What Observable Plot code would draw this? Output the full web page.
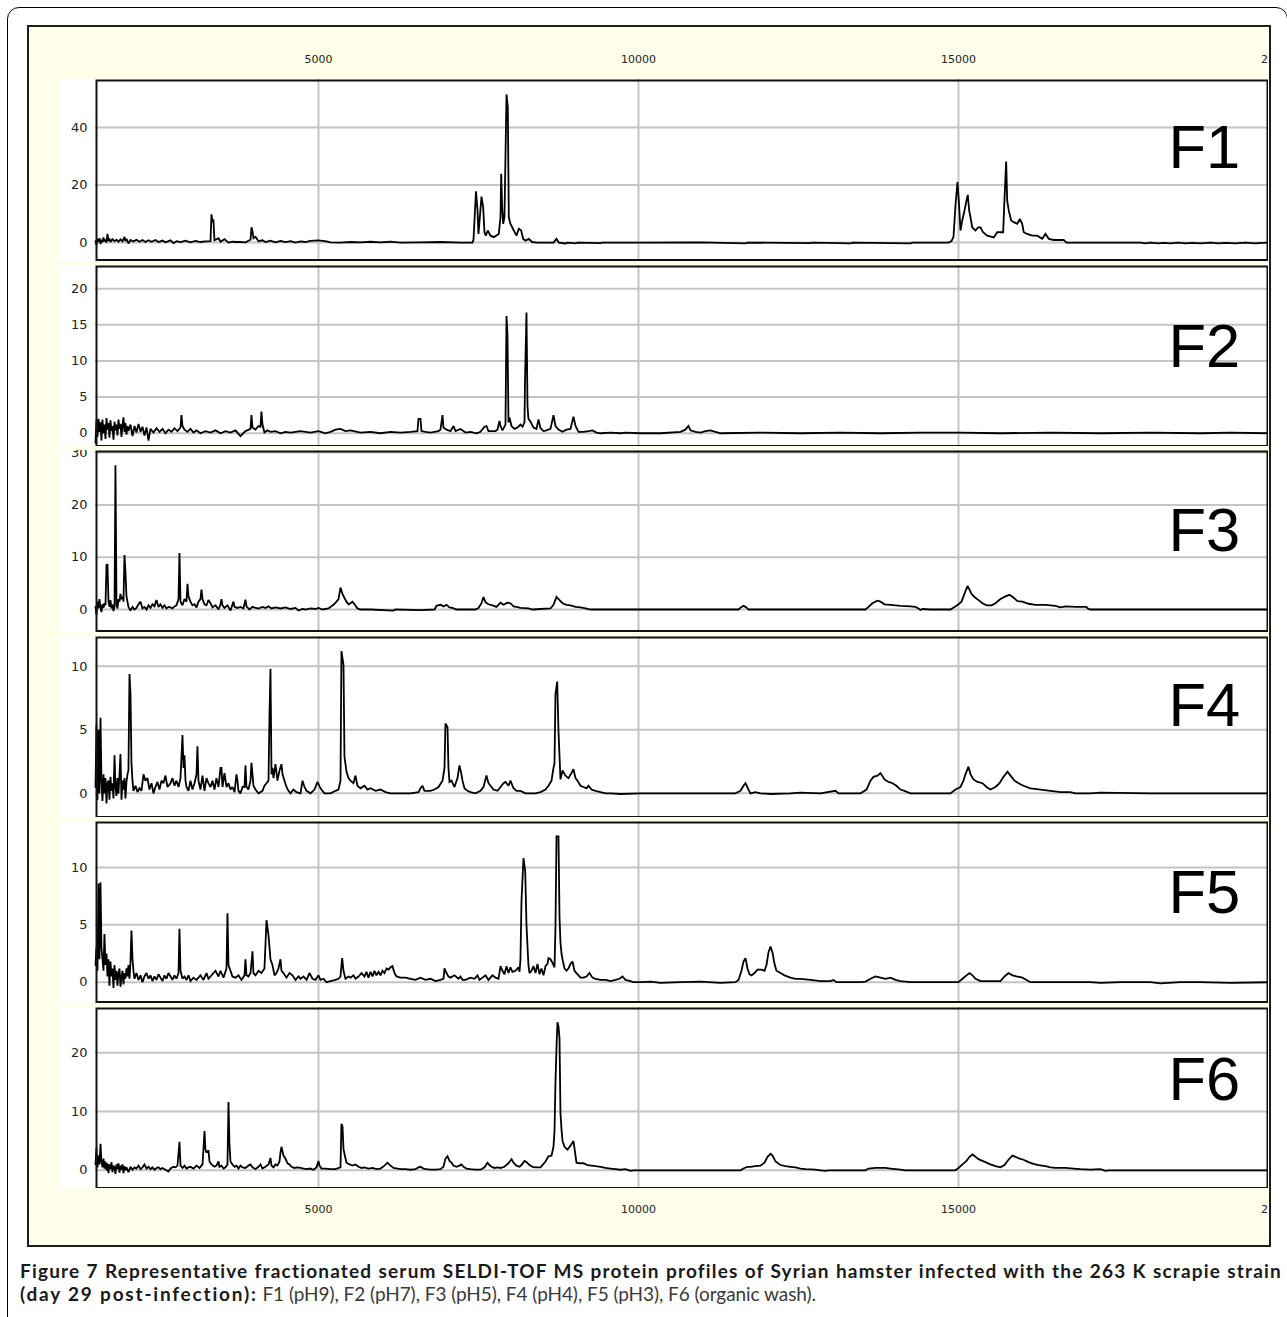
<!DOCTYPE html>
<html><head><meta charset="utf-8">
<script src="https://cdn.jsdelivr.net/npm/d3@7"></script>
<script src="https://cdn.jsdelivr.net/npm/@observablehq/plot@0.6"></script>
<style>
html,body{margin:0;padding:0;background:#fff;}
body{width:1287px;height:1317px;overflow:hidden;position:relative;font-family:"DejaVu Sans",sans-serif;}
#outer{position:absolute;left:7px;top:7px;width:1281px;height:1400px;border:1px solid #000;border-radius:12px;box-sizing:border-box;}
#frame{position:absolute;left:27px;top:25px;width:1244px;height:1222px;border:2px solid #1e1e1e;background:#fffee8;box-sizing:border-box;}
.abs{position:absolute;}
.abs svg{display:block;}
#caption{position:absolute;left:20px;top:1258.6px;width:1262px;font-family:Lato,"Open Sans",sans-serif;font-size:19px;line-height:23px;color:#1a1a1a;}
#cap1{text-align:justify;text-align-last:justify;white-space:nowrap;}
#cap2{white-space:nowrap;}
#r2{font-weight:normal;color:#3a3a3a;}
</style>
</head><body>
<div id="outer"></div>
<div id="frame"></div>
<div id="chart"></div>
<div id="caption"><div id="cap1"><b id="b1">Figure 7 Representative fractionated serum SELDI-TOF MS protein profiles of Syrian hamster infected with the 263 K scrapie strain</b></div><div id="cap2"><b id="b2">(day 29 post-infection):</b><span id="r2"> F1 (pH9), F2 (pH7), F3 (pH5), F4 (pH4), F5 (pH3), F6 (organic wash).</span></div></div>
<script>
// ---- data: m/z (Da) and intensity ----
const panelNames = ["F1", "F2", "F3", "F4", "F5", "F6"];
const xTicks = [5000, 10000, 15000, 20000];
const xGrid = [5000, 10000, 15000];
const xDomain = [1516, 19844];
const yTicks = [[0, 20, 40], [0, 5, 10, 15, 20], [0, 10, 20, 30], [0, 5, 10], [0, 5, 10], [0, 10, 20]];
const yDomains = [[-6.4, 56.7], [-1.9, 23.2], [-4.3, 30.4], [-1.94, 12.35], [-1.81, 14.0], [-3.18, 27.7]];

const f1 = [[1516,0.5],[1531,-0.8],[1547,1.2],[1563,0.3],[1578,1.5],[1594,-0.5],[1609,1.0],[1625,0.2],[1641,1.8],[1656,0.4],[1672,1.1],[1688,0],[1703,3.0],[1719,0.6],[1734,1.4],[1750,0.2],[1781,1.2],[1813,0.5],[1844,1.0],[1875,0.3],[1906,1.1],[1938,0.4],[1969,2.0],[1984,0.5],[2000,1.3],[2031,-0.3],[2063,0.9],[2109,0.4],[2156,1.0],[2203,0.3],[2250,0.9],[2297,0.2],[2344,0.8],[2391,0.3],[2453,0.9],[2500,0.2],[2563,0.7],[2609,0.1],[2688,0.8],[2734,-0.2],[2781,0.5],[2844,0.2],[2922,0.7],[3000,0.1],[3078,0.6],[3156,0.2],[3234,0.4],[3313,0.5],[3328,9.8],[3344,7.5],[3359,7.7],[3375,0.8],[3438,1.5],[3469,0.3],[3531,1.2],[3594,0],[3656,0.3],[3719,0.2],[3781,0.2],[3859,0.1],[3938,1.0],[3953,5.3],[3969,4.0],[3984,1.5],[4016,2.0],[4063,0.5],[4125,0.8],[4172,0.2],[4250,0.7],[4328,0.1],[4406,0.6],[4484,0.2],[4563,0.5],[4641,0],[4719,0.4],[4797,0.2],[4875,0.6],[5000,0.8],[5063,0.6],[5125,0.4],[5188,0.1],[5344,0],[5500,0.2],[5656,0.1],[5813,0.3],[5969,0.1],[6125,0.3],[6281,0],[6594,0.1],[6906,0.2],[7219,0],[7406,0],[7422,1.0],[7461,17.8],[7484,11.7],[7500,3.0],[7547,16.0],[7573,12.3],[7594,3.6],[7614,2.4],[7645,4.2],[7688,2.4],[7739,1.9],[7817,3.0],[7844,8.8],[7855,23.9],[7870,12.3],[7886,6.5],[7906,8.8],[7938,51.5],[7958,47.1],[7974,8.8],[8000,6.5],[8052,4.2],[8094,2.4],[8130,4.8],[8167,4.2],[8198,1.3],[8234,0.7],[8286,1.3],[8339,0.2],[8417,0],[8672,0],[8719,1.3],[8755,0],[8859,-0.3],[8891,0],[9016,-0.3],[9047,0],[9406,-0.2],[9438,0],[10031,0],[10969,0.1],[11672,-0.3],[11703,0],[12688,-0.2],[12719,0],[13313,-0.3],[13344,0],[14250,-0.3],[14281,0],[14844,0],[14891,0.5],[14922,2.0],[14953,12.9],[14984,21.0],[15005,14.6],[15031,4.2],[15058,7.7],[15083,10.0],[15125,14.6],[15145,16.6],[15167,11.1],[15188,8.8],[15214,5.3],[15266,4.2],[15308,5.3],[15344,5.3],[15380,3.7],[15448,2.4],[15552,1.8],[15605,3.6],[15698,3.6],[15719,15.2],[15745,28.2],[15761,14.6],[15786,11.1],[15823,7.7],[15864,7.1],[15917,6.5],[15958,8.2],[15995,6.5],[16020,3.6],[16073,3.0],[16151,2.4],[16230,2.4],[16308,1.3],[16359,3.0],[16411,1.3],[16489,0.9],[16645,0.9],[16688,0],[17844,0],[17922,-0.3],[18000,0],[18125,-0.3],[18203,-0.1],[18313,-0.3],[18438,0],[18547,-0.3],[18656,-0.1],[18781,-0.3],[18938,0],[19063,-0.3],[19172,-0.1],[19328,-0.3],[19484,0],[19641,-0.3],[19750,-0.1],[19844,0]];

const f2 = [[1516,-1.3],[1531,1.8],[1547,-0.5],[1563,2.0],[1578,0.2],[1594,1.5],[1609,-1.0],[1625,1.9],[1641,0],[1656,1.2],[1672,-0.8],[1688,2.1],[1703,0.5],[1719,1.4],[1734,-0.6],[1750,1.8],[1766,0.3],[1781,1.0],[1797,-0.9],[1813,1.6],[1828,0.4],[1844,1.2],[1859,-0.3],[1875,1.9],[1891,0.6],[1906,1.3],[1922,-0.5],[1938,1.1],[1953,2.2],[1969,0.2],[1984,1.4],[2000,-0.2],[2016,1.0],[2031,0.3],[2063,1.2],[2094,-0.4],[2125,1.0],[2156,0.1],[2188,1.3],[2219,0.2],[2250,0.9],[2281,-0.3],[2313,0.8],[2344,-1.0],[2375,0.6],[2422,0.1],[2469,0.7],[2516,0.2],[2563,0.6],[2609,0],[2656,0.5],[2703,0.2],[2750,0.7],[2797,0.3],[2844,0.8],[2859,2.5],[2875,1.0],[2906,0.5],[2953,0.2],[3000,0.6],[3047,0.1],[3094,0.4],[3156,0],[3234,0.3],[3313,0.1],[3391,0.4],[3469,0],[3547,0.3],[3625,0.1],[3703,0.4],[3781,-0.4],[3859,0.3],[3938,0.6],[3953,2.5],[3969,0.8],[4016,0.5],[4063,1.0],[4094,0.9],[4109,3.0],[4125,1.2],[4156,0.1],[4203,0.4],[4250,0.2],[4328,0.3],[4406,0],[4484,0.2],[4563,0.1],[4719,0.3],[4875,0.1],[5000,0.3],[5109,0],[5188,0.2],[5266,0.5],[5344,0.6],[5422,0.3],[5500,0.4],[5656,0.1],[5813,0.2],[5969,0],[6125,0.2],[6281,0.1],[6438,0.2],[6547,0.3],[6563,2.0],[6594,2.0],[6609,0.3],[6672,0.2],[6750,0.1],[6875,0.3],[6906,0.5],[6938,2.5],[6953,0.8],[7000,0.5],[7063,0.3],[7109,1.0],[7141,0.3],[7219,0.6],[7297,0.1],[7375,0.2],[7469,0],[7531,0.2],[7594,0.9],[7625,1.0],[7656,0.3],[7766,0.3],[7797,0.5],[7828,1.7],[7844,1.0],[7875,0.4],[7922,1.2],[7938,16.2],[7953,13.6],[7969,1.5],[7984,2.2],[8016,1.0],[8063,0.6],[8109,0.8],[8156,1.2],[8188,0.9],[8219,1.5],[8227,7.2],[8250,16.7],[8266,3.7],[8281,2.0],[8313,1.6],[8359,0.8],[8406,0.6],[8438,1.9],[8469,0.7],[8516,0.3],[8563,0.4],[8625,0.6],[8672,2.5],[8703,1.0],[8750,0.5],[8813,0.2],[8875,0.5],[8938,0.6],[8984,2.3],[9016,1.0],[9063,0.2],[9141,0.2],[9219,0.3],[9281,0.4],[9344,0.1],[9406,0],[9563,0.1],[9719,0],[9797,0.1],[10031,0],[10344,0],[10656,0.2],[10734,0.5],[10781,1.0],[10813,0.4],[10891,0.2],[10969,0.1],[11047,0.3],[11125,0.4],[11203,0.2],[11281,0],[11906,0.1],[12531,0],[13156,0.1],[13781,0],[14406,0.1],[15031,0.1],[15656,0],[16438,0.1],[17219,0],[18000,0.1],[18781,0],[19250,0.1],[19844,0]];

const f3 = [[1516,0.5],[1531,-1.0],[1547,1.5],[1563,0.2],[1578,2.0],[1594,0.5],[1609,-0.5],[1625,1.0],[1641,0.3],[1656,1.2],[1672,0.8],[1688,8.5],[1703,8.7],[1719,1.5],[1734,0.5],[1750,1.8],[1766,0.2],[1781,1.0],[1797,-0.3],[1813,0.5],[1828,27.6],[1844,1.0],[1859,0.2],[1875,2.0],[1891,1.5],[1906,3.0],[1922,2.0],[1938,2.5],[1953,1.5],[1969,10.4],[1984,7.2],[2000,2.5],[2016,1.5],[2031,0.5],[2063,-0.2],[2094,0.5],[2125,0],[2156,0.3],[2188,1.0],[2219,1.5],[2250,0.2],[2281,0.5],[2313,0],[2344,0.8],[2375,0.3],[2406,1.0],[2438,0.6],[2469,1.8],[2500,0.5],[2531,1.0],[2563,0.3],[2594,0.8],[2625,0.2],[2656,0.5],[2688,0.4],[2719,0.2],[2750,0.6],[2781,0.8],[2813,2.0],[2828,10.8],[2844,1.5],[2875,0.8],[2906,2.0],[2938,1.5],[2953,4.9],[2969,2.5],[3000,1.5],[3031,0.8],[3063,1.0],[3094,0.4],[3125,1.5],[3156,2.0],[3172,3.8],[3188,2.0],[3219,1.0],[3250,0.8],[3281,1.8],[3313,1.2],[3344,0.4],[3391,0.8],[3438,0],[3469,1.0],[3484,2.0],[3500,0.8],[3531,0.3],[3578,0.8],[3625,-0.2],[3672,1.5],[3688,0.5],[3734,0.3],[3781,0.5],[3828,0.2],[3859,1.9],[3875,0.6],[3922,0],[3969,0.5],[4016,0.3],[4063,0.2],[4125,0.5],[4172,0.3],[4219,0.6],[4266,0.2],[4328,0.4],[4406,0.2],[4484,0.4],[4563,0.1],[4641,0.3],[4688,-0.2],[4750,0.1],[4797,0],[4875,0.2],[4953,0.1],[5000,0.3],[5063,0],[5156,0.2],[5234,0.9],[5281,1.5],[5313,2.0],[5344,4.2],[5375,3.0],[5406,2.2],[5438,1.5],[5469,1.0],[5500,1.2],[5531,1.5],[5563,1.0],[5609,0.2],[5656,0],[5813,0],[6172,-0.2],[6203,0],[6594,-0.1],[6813,0],[6844,0.7],[6906,0.9],[6953,0.6],[7000,0.9],[7047,0.4],[7094,0.3],[7156,0],[7453,0],[7500,0.3],[7547,1.2],[7578,2.4],[7609,1.4],[7656,1.0],[7719,0.8],[7781,0.5],[7844,1.3],[7891,0.9],[7953,1.3],[8000,1.2],[8047,0.6],[8094,0.5],[8156,0.3],[8281,0.2],[8344,0],[8469,0.1],[8625,0.2],[8672,0.9],[8719,2.4],[8766,1.8],[8813,1.2],[8875,0.9],[8938,0.8],[9016,0.5],[9094,0.4],[9172,0.2],[9250,0],[11563,0],[11609,0.5],[11641,0.7],[11688,0.4],[11719,0],[13547,0],[13594,0.5],[13656,1.2],[13734,1.7],[13781,1.5],[13844,1.0],[13938,0.9],[14016,0.8],[14094,0.7],[14250,0.6],[14328,0.5],[14375,0.2],[14406,-0.1],[14438,0.1],[14563,0],[14875,0],[14938,0.5],[15000,1.0],[15047,1.5],[15078,2.5],[15109,3.5],[15141,4.5],[15172,3.8],[15203,3.0],[15250,2.4],[15313,1.8],[15375,1.2],[15438,0.8],[15516,0.8],[15578,1.2],[15656,2.0],[15734,2.5],[15797,2.8],[15859,2.3],[15922,1.6],[16000,1.5],[16094,1.1],[16203,0.9],[16359,0.9],[16516,0.7],[16594,0.4],[16672,0.6],[16828,0.5],[17000,0.5],[17016,0.2],[17063,0],[19844,0]];

const f4 = [[1516,0.5],[1531,5.4],[1547,-0.5],[1563,5.0],[1578,0],[1594,5.95],[1609,1.0],[1625,-0.6],[1641,1.5],[1656,0],[1672,1.2],[1688,-0.8],[1703,0.8],[1719,1.0],[1734,-0.5],[1750,1.3],[1766,0.2],[1781,0.8],[1797,-0.4],[1813,3.0],[1828,0.5],[1844,-0.2],[1859,1.2],[1875,0],[1891,1.5],[1906,3.1],[1922,-0.5],[1938,1.0],[1953,0.3],[1969,1.2],[1984,-0.4],[2000,0.9],[2016,1.5],[2031,1.8],[2047,9.4],[2063,7.8],[2078,2.4],[2094,1.0],[2109,0.2],[2141,0.6],[2172,0.1],[2203,0.4],[2234,0.2],[2266,1.5],[2297,1.0],[2328,1.2],[2359,0.3],[2391,0.8],[2422,0],[2453,0.5],[2484,0.9],[2516,0.3],[2547,1.0],[2578,0.8],[2609,1.4],[2641,0.5],[2688,0.8],[2719,1.2],[2750,0.6],[2781,1.0],[2813,0.5],[2844,1.2],[2875,4.6],[2891,2.0],[2906,3.0],[2922,1.0],[2938,0.5],[2969,0.2],[3000,1.0],[3031,0.3],[3063,0.8],[3094,1.5],[3109,3.7],[3125,1.0],[3156,0.3],[3188,1.4],[3219,0.2],[3250,1.2],[3281,0.8],[3313,0.5],[3344,1.0],[3375,0.3],[3406,1.2],[3438,0.5],[3469,2.0],[3484,2.0],[3500,0.5],[3531,1.6],[3563,0.5],[3594,0.8],[3625,0.3],[3656,0.5],[3688,0.1],[3719,1.5],[3734,1.0],[3750,0.2],[3781,0],[3813,0.5],[3844,0.5],[3859,2.2],[3875,0.5],[3906,0.3],[3938,1.0],[3953,2.4],[3969,1.5],[3984,0.6],[4016,0.3],[4063,0],[4125,0.2],[4156,0.6],[4188,0.8],[4219,1.0],[4234,5.95],[4250,9.8],[4266,1.5],[4281,2.0],[4297,1.2],[4328,2.3],[4359,1.0],[4391,1.8],[4422,2.3],[4438,1.5],[4469,1.0],[4500,0.5],[4531,0.2],[4563,0],[4609,0.3],[4656,0.1],[4719,0],[4750,1.0],[4781,0.5],[4813,0.2],[4875,0],[4938,0.3],[4984,0.9],[5031,0.4],[5094,0],[5188,0],[5266,0.2],[5313,0.3],[5344,1.0],[5359,11.2],[5391,10.1],[5406,2.9],[5438,1.7],[5469,1.2],[5500,1.0],[5547,0.8],[5578,1.4],[5609,0.6],[5656,0.4],[5719,0.6],[5766,0.3],[5813,0.4],[5891,0.2],[5969,0.3],[6047,0.1],[6125,0],[6281,0],[6438,0],[6563,0.1],[6594,0.4],[6625,0.6],[6656,0.2],[6750,0.2],[6813,0.3],[6875,0.5],[6938,1.0],[6969,2.0],[6984,5.5],[7016,5.2],[7031,2.0],[7047,0.9],[7078,1.0],[7125,0.5],[7172,1.2],[7203,2.2],[7234,1.5],[7250,1.0],[7281,0.4],[7328,0.2],[7375,0.1],[7453,0],[7531,0.2],[7578,0.5],[7625,1.4],[7656,0.8],[7688,0.6],[7734,0.3],[7797,0.2],[7844,0.5],[7891,0.8],[7922,0.9],[7969,0.6],[8000,1.0],[8047,0.4],[8094,0.2],[8156,0.2],[8234,0],[8391,0],[8469,0.1],[8547,0.3],[8594,0.6],[8641,1.0],[8672,2.0],[8688,2.4],[8703,7.8],[8730,8.8],[8750,4.9],[8766,3.0],[8781,1.1],[8813,1.8],[8859,1.4],[8906,1.2],[8953,1.6],[8984,1.9],[9016,1.2],[9047,1.0],[9094,0.6],[9141,0.5],[9188,0.4],[9219,0.6],[9266,0.3],[9328,0.2],[9406,0.1],[9484,0],[9563,0],[9719,-0.05],[10031,0],[10969,0],[11516,0],[11594,0.2],[11641,0.6],[11672,0.8],[11719,0.3],[11750,0],[11828,0.1],[11906,0],[12063,-0.05],[12375,0],[12531,0.05],[12844,0],[13078,0.2],[13125,0],[13469,0],[13563,0.3],[13625,1.0],[13672,1.3],[13734,1.4],[13781,1.6],[13844,1.1],[13906,0.9],[13969,0.8],[14031,0.6],[14094,0.3],[14156,0.2],[14250,0],[14875,0],[14953,0.3],[15031,0.5],[15078,1.0],[15109,1.5],[15156,2.1],[15188,1.5],[15234,1.1],[15297,0.9],[15375,0.8],[15438,0.5],[15500,0.3],[15578,0.5],[15641,0.8],[15703,1.3],[15766,1.7],[15813,1.4],[15875,1.0],[15938,0.8],[16016,0.6],[16125,0.4],[16281,0.3],[16438,0.2],[16594,0.1],[16750,0.1],[16828,0],[17063,0],[17219,0.05],[18000,0],[18781,0],[19844,0]];

const f5 = [[1516,1.5],[1531,3.05],[1547,1.0],[1563,8.6],[1578,2.0],[1594,8.7],[1609,3.0],[1625,2.0],[1641,1.0],[1656,4.2],[1672,1.5],[1688,2.5],[1703,0.5],[1719,2.0],[1734,-0.3],[1750,1.8],[1766,0.5],[1781,1.2],[1797,-0.5],[1813,1.5],[1828,0.2],[1844,1.0],[1859,-0.3],[1875,0.8],[1891,1.2],[1906,-0.4],[1922,0.5],[1938,1.0],[1953,-0.2],[1969,0.8],[1984,0.3],[2000,1.2],[2016,0.5],[2031,1.5],[2047,0.3],[2063,1.8],[2078,4.5],[2094,2.0],[2109,1.0],[2125,0.3],[2156,0.8],[2188,0.2],[2219,0.6],[2250,0],[2281,0.5],[2313,0.8],[2344,0.3],[2375,0.6],[2406,0.1],[2438,0.5],[2469,0.2],[2500,0.7],[2531,0.4],[2563,0.1],[2594,0.6],[2625,0.3],[2656,0.8],[2688,0.5],[2719,0.2],[2750,0.6],[2781,0.3],[2813,0.8],[2828,4.65],[2844,1.0],[2875,0.3],[2906,0.5],[2938,0.2],[2969,0.6],[3000,0.1],[3047,0.4],[3094,0.2],[3125,0.4],[3156,0.6],[3203,0.2],[3250,0.8],[3281,0.3],[3313,0.5],[3359,0.8],[3391,1.0],[3438,0.5],[3469,1.0],[3516,0.4],[3563,1.2],[3578,6.0],[3594,1.5],[3625,1.0],[3656,0.5],[3703,0.4],[3750,0.6],[3797,0.2],[3844,0.6],[3859,2.0],[3875,0.6],[3906,0.5],[3938,0.8],[3969,2.7],[3984,0.8],[4016,0.6],[4063,1.0],[4109,0.8],[4156,1.2],[4188,5.4],[4219,4.1],[4250,2.0],[4281,1.5],[4313,0.6],[4344,0.8],[4375,1.2],[4406,2.0],[4422,1.0],[4453,0.8],[4500,0.4],[4547,0.8],[4594,0.6],[4641,0.2],[4688,0.5],[4719,0.3],[4766,0.5],[4813,0.2],[4859,0.8],[4906,0.3],[4953,0.2],[5000,0.6],[5031,0.2],[5078,0.3],[5125,0],[5188,0.1],[5266,0.2],[5313,0.3],[5344,0.5],[5370,2.1],[5391,1.0],[5422,0.3],[5469,0.5],[5500,0.4],[5547,0.6],[5578,0.3],[5625,0.5],[5672,0.8],[5719,0.5],[5750,0.9],[5781,0.4],[5813,0.9],[5844,0.5],[5875,1.0],[5906,0.6],[5938,0.9],[5969,0.6],[6000,1.0],[6031,0.8],[6063,1.2],[6094,1.1],[6125,1.3],[6156,1.4],[6188,0.8],[6219,0.5],[6281,0.4],[6359,0.4],[6438,0.3],[6516,0.2],[6594,0.4],[6672,0.2],[6750,0.3],[6828,0.1],[6906,0.2],[6953,0.3],[6969,1.2],[7000,0.8],[7031,0.5],[7063,0.4],[7125,0.6],[7188,0.3],[7219,0.5],[7250,0.2],[7297,0.2],[7375,0.4],[7438,0.3],[7484,0.6],[7516,0.2],[7563,0.4],[7609,0.6],[7656,0.2],[7719,0.6],[7766,0.4],[7813,0.3],[7844,1.4],[7875,1.0],[7906,0.7],[7938,1.4],[7969,0.8],[8000,1.3],[8031,0.9],[8078,1.0],[8125,1.3],[8141,0.9],[8156,2.0],[8172,7.1],[8203,10.8],[8230,9.7],[8250,5.0],[8266,3.1],[8281,1.5],[8297,0.8],[8328,1.0],[8359,1.4],[8391,0.8],[8422,1.6],[8453,0.7],[8484,1.2],[8516,0.6],[8547,1.4],[8578,1.6],[8594,2.1],[8625,2.0],[8656,1.7],[8688,1.3],[8703,4.8],[8719,12.7],[8750,12.7],[8766,5.7],[8781,3.5],[8797,2.5],[8813,2.0],[8844,1.2],[8875,1.0],[8906,1.2],[8938,1.6],[8969,1.8],[9000,1.0],[9031,0.8],[9063,0.6],[9094,0.4],[9141,0.4],[9188,0.5],[9234,0.8],[9281,0.4],[9328,0.3],[9406,0.2],[9484,0.2],[9563,0.1],[9641,0.2],[9703,0.3],[9750,0.5],[9797,0.2],[9875,0.1],[9922,0],[10031,0],[10188,0.05],[10344,-0.05],[10656,0],[10969,0.05],[11281,-0.05],[11516,0],[11563,0.2],[11609,1.0],[11641,1.8],[11672,2.1],[11703,1.2],[11734,0.7],[11766,0.6],[11813,0.8],[11859,1.1],[11922,1.1],[11969,1.0],[12000,1.5],[12031,2.6],[12063,3.1],[12094,2.6],[12125,1.6],[12156,1.0],[12219,0.8],[12281,0.6],[12375,0.4],[12453,0.3],[12531,0.3],[12688,0.2],[12844,0.1],[13000,0.1],[13047,0.2],[13094,0],[13469,0],[13547,0.05],[13625,0.3],[13703,0.5],[13781,0.4],[13859,0.3],[13938,0.4],[14016,0.2],[14094,0.1],[14250,0],[14875,0],[15000,0],[15063,0.3],[15125,0.6],[15172,0.8],[15219,0.6],[15266,0.3],[15344,0.1],[15500,0.1],[15656,0.1],[15719,0.5],[15781,0.8],[15844,0.6],[15906,0.5],[16000,0.4],[16063,0.2],[16125,0],[16594,0],[17063,0],[17219,-0.05],[17531,0],[18000,0],[18156,-0.1],[18469,0],[18781,0],[19250,-0.05],[19844,0]];

const f6 = [[1516,1.0],[1531,3.8],[1547,0.5],[1563,2.5],[1578,1.0],[1594,4.5],[1609,1.5],[1625,0.5],[1641,2.0],[1656,0.3],[1672,1.5],[1688,0],[1703,1.2],[1719,-0.5],[1734,1.0],[1750,0.2],[1766,1.4],[1781,-0.3],[1797,0.8],[1813,0.5],[1828,-0.6],[1844,1.0],[1859,0.2],[1875,1.2],[1891,-0.4],[1906,0.8],[1922,0.1],[1938,1.0],[1953,-0.5],[1969,0.7],[1984,0],[2000,0.5],[2031,-0.3],[2063,0.6],[2094,0.1],[2125,0.5],[2156,0.3],[2188,0.8],[2219,0.2],[2250,0.5],[2281,1.0],[2313,0.3],[2344,0.6],[2375,0.2],[2406,0.5],[2438,0.1],[2469,0.4],[2500,0.5],[2531,0.2],[2563,0.4],[2609,0.1],[2656,-0.2],[2688,0.3],[2734,0.6],[2766,0.5],[2797,0.8],[2828,4.85],[2844,0.8],[2875,0.4],[2906,0.8],[2938,0.3],[2969,0.5],[3000,0.6],[3047,0.3],[3094,0.8],[3141,0.4],[3188,1.0],[3219,6.7],[3234,3.5],[3250,3.0],[3281,3.4],[3297,1.5],[3328,1.0],[3375,0.6],[3406,0.8],[3438,1.5],[3453,0.6],[3484,0.8],[3516,0.3],[3547,0.5],[3578,1.0],[3594,11.6],[3609,4.5],[3625,1.5],[3656,1.0],[3688,0.6],[3719,0.8],[3750,0.3],[3781,0.8],[3813,0.5],[3859,0.4],[3906,0.8],[3938,1.0],[3969,0.5],[4016,0.2],[4063,0.6],[4094,1.0],[4125,0.3],[4172,0.6],[4219,1.0],[4250,2.1],[4266,0.8],[4297,0.5],[4328,1.0],[4359,0.8],[4391,1.5],[4406,3.0],[4422,4.0],[4453,2.5],[4484,2.0],[4516,1.2],[4547,1.0],[4578,0.6],[4625,0.4],[4672,0.5],[4719,0.4],[4766,0.3],[4813,0.2],[4875,0.3],[4922,0.1],[4969,0.5],[5000,1.6],[5016,0.8],[5047,0.3],[5109,0.3],[5188,0.2],[5266,0.2],[5344,0.5],[5359,7.9],[5375,7.5],[5391,3.6],[5422,2.0],[5438,1.3],[5484,1.0],[5531,0.8],[5578,1.0],[5625,0.6],[5672,0.4],[5719,0.5],[5781,0.3],[5844,0.4],[5906,0.2],[5969,0.3],[6031,0.8],[6078,1.3],[6125,0.8],[6172,0.4],[6234,0.3],[6281,0.2],[6359,0.2],[6438,0.1],[6516,0.2],[6563,0.5],[6594,0.6],[6641,0.3],[6688,0.2],[6750,0.1],[6828,0.1],[6906,0.2],[6953,0.6],[6984,2.0],[7016,2.4],[7047,1.6],[7078,1.3],[7109,0.8],[7156,0.6],[7203,0.8],[7234,1.0],[7266,0.6],[7313,0.3],[7375,0.2],[7453,0.1],[7531,0.1],[7594,0.5],[7641,1.3],[7672,0.9],[7703,0.6],[7750,0.4],[7797,0.5],[7844,0.4],[7906,0.6],[7969,1.2],[8016,1.9],[8047,1.3],[8094,0.8],[8141,0.6],[8172,0.9],[8219,1.6],[8250,1.4],[8297,0.9],[8344,0.6],[8391,0.5],[8469,0.5],[8547,1.5],[8594,2.4],[8641,2.5],[8672,4.0],[8688,6.7],[8703,15.0],[8719,20.8],[8734,25.2],[8750,24.5],[8766,22.5],[8781,9.8],[8797,7.0],[8813,5.0],[8844,4.0],[8891,3.5],[8938,4.2],[8984,5.0],[9016,2.5],[9031,1.3],[9078,1.2],[9141,1.2],[9203,0.9],[9266,0.8],[9328,0.7],[9406,0.6],[9484,0.4],[9563,0.3],[9641,0.2],[9719,0.1],[9797,0.2],[9875,-0.1],[9922,0],[10969,0],[11594,0],[11641,0.3],[11703,0.6],[11750,0.6],[11828,0.7],[11906,0.8],[11969,1.3],[12016,2.3],[12063,2.8],[12094,2.5],[12141,1.5],[12219,0.9],[12297,0.7],[12375,0.6],[12453,0.5],[12531,0.3],[12609,0.2],[12766,0.1],[12844,0],[12922,-0.1],[12969,0],[13547,0],[13594,0.3],[13703,0.4],[13859,0.4],[13938,0.3],[14016,0.2],[14094,0.1],[14172,0],[14953,0],[15000,0.4],[15063,1.0],[15125,1.6],[15172,2.3],[15219,2.7],[15266,2.3],[15313,1.9],[15375,1.6],[15438,1.3],[15500,1.0],[15578,0.7],[15656,0.5],[15719,0.9],[15781,1.8],[15844,2.5],[15891,2.3],[15953,2.0],[16016,1.8],[16094,1.4],[16172,1.1],[16250,0.9],[16359,0.7],[16438,0.5],[16516,0.4],[16672,0.4],[16797,0.3],[16906,0.2],[17063,0.1],[17219,0.2],[17297,-0.1],[17344,0],[17453,0],[19844,0]];

const spectra = [f1, f2, f3, f4, f5, f6];

// ---- layout ----
const chart = document.getElementById("chart");
const panelLeft = 59, plotLeft = 95, plotRight = 1268;
const panelTop0 = 79, panelH = 181.5, panelStep = 185.5;
const labelCapTop = [45, 58, 57, 45.5, 48, 48.5];

function place(node, left, top) {
  const d = document.createElement("div");
  d.className = "abs";
  d.style.left = left + "px";
  d.style.top = top + "px";
  d.appendChild(node);
  chart.appendChild(d);
}

// top x axis
place(Plot.plot({
  width: plotRight - plotLeft, height: 40,
  marginLeft: 0, marginRight: 0, marginTop: 30, marginBottom: 10,
  style: {background: "transparent", overflow: "hidden", fontFamily: "DejaVu Sans", fontSize: "11px", color: "#222"},
  x: {domain: xDomain},
  marks: [Plot.axisX(xTicks, {anchor: "top", tickSize: 0, tickPadding: 7, label: null, tickFormat: d => String(d)})]
}), plotLeft, 39);

spectra.forEach((data, i) => {
  const svg = Plot.plot({
    width: plotRight - panelLeft, height: panelH,
    marginLeft: plotLeft - panelLeft, marginRight: 0, marginTop: 0, marginBottom: 0,
    style: {background: "white", overflow: "hidden", fontFamily: "DejaVu Sans", fontSize: "13px", color: "#222"},
    x: {domain: xDomain, axis: null},
    y: {domain: yDomains[i]},
    marks: [
      Plot.gridX(xGrid, {stroke: "#c4c4c4", strokeOpacity: 1, strokeWidth: 2}),
      Plot.gridY(yTicks[i], {stroke: "#c4c4c4", strokeOpacity: 1, strokeWidth: 2}),
      Plot.axisY(yTicks[i], {anchor: "left", tickSize: 0, tickPadding: 8, label: null}),
      Plot.line(data, {x: d => d[0], y: d => d[1], stroke: "#000", strokeWidth: 1.8, strokeLinejoin: "miter", strokeMiterlimit: 2}),
      Plot.frame({stroke: "#111", strokeWidth: 2, inset: 1}),
      Plot.text([panelNames[i]], {text: d => d, frameAnchor: "top-right", textAnchor: "start", lineAnchor: "top",
        dx: -100, dy: labelCapTop[i], fontSize: 61.5, fontFamily: "Liberation Sans, Arial, sans-serif", fill: "#000"})
    ]
  });
  place(svg, panelLeft, panelTop0 + i * panelStep);
});

// bottom x axis
place(Plot.plot({
  width: plotRight - plotLeft, height: 40,
  marginLeft: 0, marginRight: 0, marginTop: 0, marginBottom: 30,
  style: {background: "transparent", overflow: "hidden", fontFamily: "DejaVu Sans", fontSize: "11px", color: "#222"},
  x: {domain: xDomain},
  marks: [Plot.axisX(xTicks, {anchor: "bottom", tickSize: 0, tickPadding: 5, label: null, tickFormat: d => String(d)})]
}), plotLeft, 1190);

// caption: letter-spacing so the pieces end where they do in the figure
function fitCaption() {
  const cap1 = document.getElementById("cap1");
  const b1 = document.getElementById("b1"), b2 = document.getElementById("b2"), r2 = document.getElementById("r2");
  [b1, b2, r2].forEach(e => e.style.letterSpacing = "0px");
  const clamp = (v, a, b) => Math.max(a, Math.min(b, v));
  const lsB = clamp((245 - b2.getBoundingClientRect().width) / b2.textContent.length, -1, 1.8);
  b2.style.letterSpacing = lsB + "px";
  const wB = b2.getBoundingClientRect().width;
  const lsR = clamp((796 - wB - r2.getBoundingClientRect().width) / r2.textContent.length, -1, 1.5);
  r2.style.letterSpacing = lsR + "px";
  cap1.style.textAlignLast = "left";
  cap1.style.textAlign = "left";
  const w1 = b1.getBoundingClientRect().width;
  const ls1 = Math.min(lsB, (1255 - w1) / b1.textContent.length);
  b1.style.letterSpacing = ls1 + "px";
  cap1.style.textAlign = "justify";
  cap1.style.textAlignLast = "justify";
}
fitCaption();
if (document.fonts && document.fonts.ready) document.fonts.ready.then(fitCaption);
</script>
</body></html>
